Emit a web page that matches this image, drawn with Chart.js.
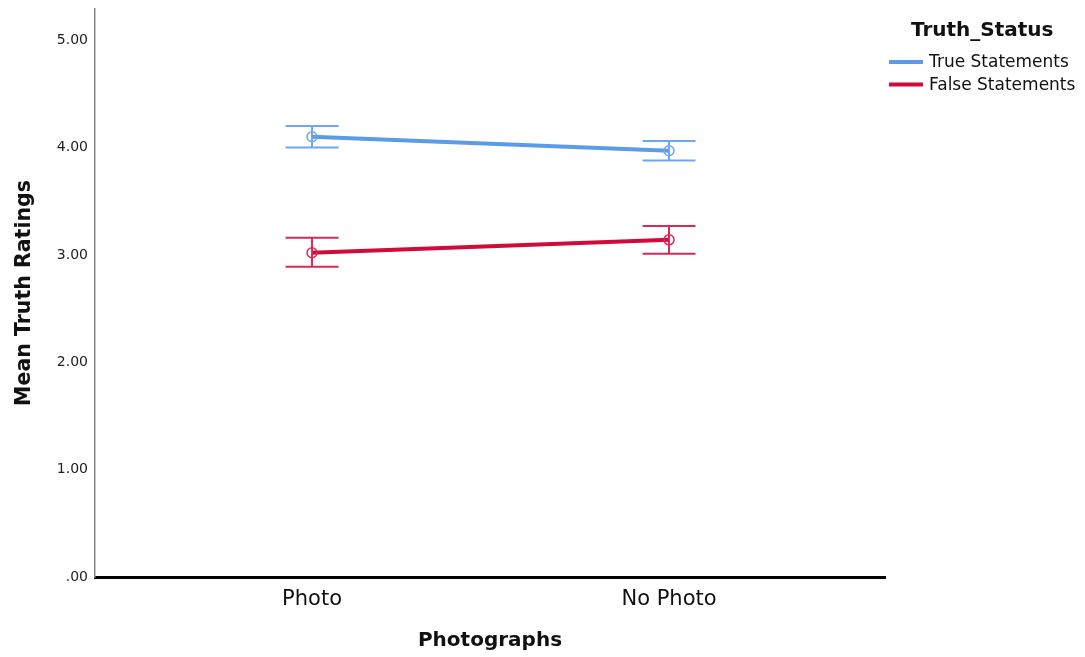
<!DOCTYPE html>
<html>
<head>
<meta charset="utf-8">
<script src="https://cdn.jsdelivr.net/npm/chart.js@4.4.1/dist/chart.umd.min.js"></script>
<style>
  html, body { margin: 0; padding: 0; background: #fff; }
  #wrap { width: 1085px; height: 657px; position: relative; }
</style>
</head>
<body>
<div id="wrap"><canvas id="chart" width="1085" height="657"></canvas></div>
<script>
// Categories on the x axis
const categories = ['Photo', 'No Photo'];
// Series names (legend)
const seriesNames = ['True Statements', 'False Statements'];
// Mean truth ratings
const trueMeans = [4.10, 3.97];
const falseMeans = [3.02, 3.14];
// Error bar limits
const trueUpper = [4.20, 4.06];
const trueLower = [4.00, 3.88];
const falseUpper = [3.16, 3.27];
const falseLower = [2.89, 3.01];
// Y tick values
const yTicks = [0, 1, 2, 3, 4, 5];

const legendTitle = 'Truth_Status';
const colors = ['#5b9be8', '#d20a3c'];
const barColors = ['#6ea7ea', '#d82a55'];

const toPoints = arr => arr.map((v, i) => ({ x: i, y: v }));

const errorBars = {
  id: 'errorBars',
  afterDatasetsDraw(chart) {
    const { ctx, scales: { x, y } } = chart;
    const limits = [[trueUpper, trueLower], [falseUpper, falseLower]];
    ctx.save();
    limits.forEach(([up, lo], d) => {
      ctx.strokeStyle = barColors[d];
      ctx.lineWidth = 2;
      up.forEach((u, i) => {
        const px = x.getPixelForValue(i);
        const pu = y.getPixelForValue(u);
        const pl = y.getPixelForValue(lo[i]);
        ctx.beginPath();
        ctx.moveTo(px, pu); ctx.lineTo(px, pl);
        ctx.moveTo(px - 26.5, pu); ctx.lineTo(px + 26.5, pu);
        ctx.moveTo(px - 26.5, pl); ctx.lineTo(px + 26.5, pl);
        ctx.stroke();
      });
    });
    ctx.restore();
  }
};

const sideLegend = {
  id: 'sideLegend',
  afterDraw(chart) {
    const ctx = chart.ctx;
    ctx.save();
    ctx.fillStyle = '#111';
    ctx.textBaseline = 'middle';
    ctx.textAlign = 'left';
    ctx.font = 'bold 20px "DejaVu Sans"';
    ctx.fillText(legendTitle, 911, 31);
    ctx.font = '17px "DejaVu Sans"';
    seriesNames.forEach((name, i) => {
      const yy = 62 + i * 22.5;
      ctx.strokeStyle = colors[i];
      ctx.lineWidth = 4;
      ctx.beginPath();
      ctx.moveTo(889, yy); ctx.lineTo(923, yy);
      ctx.stroke();
      ctx.fillStyle = '#111';
      ctx.fillText(name, 929, yy + 1);
    });
    ctx.restore();
  }
};

new Chart(document.getElementById('chart'), {
  type: 'line',
  data: {
    datasets: [
      {
        label: seriesNames[0],
        data: toPoints(trueMeans),
        borderColor: colors[0],
        borderWidth: 4,
        pointRadius: 5,
        pointBorderWidth: 1.5,
        pointBorderColor: barColors[0],
        pointBackgroundColor: 'rgba(255,255,255,0)'
      },
      {
        label: seriesNames[1],
        data: toPoints(falseMeans),
        borderColor: colors[1],
        borderWidth: 4,
        pointRadius: 5,
        pointBorderWidth: 1.5,
        pointBorderColor: barColors[1],
        pointBackgroundColor: 'rgba(255,255,255,0)'
      }
    ]
  },
  options: {
    responsive: false,
    animation: false,
    layout: { padding: { top: 9, right: 200, left: 0, bottom: 0 } },
    plugins: { legend: { display: false }, tooltip: { enabled: false } },
    scales: {
      x: {
        type: 'linear',
        min: -0.608,
        max: 1.605,
        afterBuildTicks(scale) { scale.ticks = categories.map((c, i) => ({ value: i })); },
        afterFit(scale) { scale.height = 80; },
        grid: { display: false, drawTicks: false },
        border: { display: true, color: '#000', width: 3 },
        ticks: {
          padding: 10,
          color: '#111',
          font: { family: '"DejaVu Sans"', size: 21 },
          callback: v => categories[v]
        },
        title: {
          display: true,
          text: 'Photographs',
          color: '#111',
          font: { family: '"DejaVu Sans"', size: 20, weight: 'bold' },
          padding: { top: 0, bottom: 4 }
        }
      },
      y: {
        min: 0,
        max: 5.29,
        afterBuildTicks(scale) { scale.ticks = yTicks.map(v => ({ value: v })); },
        afterFit(scale) {
          scale.width = 95;
          scale.paddingTop = 0;
          scale.paddingBottom = 0;
        },
        grid: { display: false, drawTicks: false },
        border: { display: true, color: '#888', width: 1.5 },
        ticks: {
          padding: 7,
          color: '#222',
          font: { family: '"DejaVu Sans"', size: 14 },
          callback: v => (v === 0 ? '.00' : v.toFixed(2))
        },
        title: {
          display: true,
          text: 'Mean Truth Ratings',
          color: '#111',
          font: { family: '"DejaVu Sans"', size: 20.5, weight: 'bold' },
          padding: { top: 12, bottom: 0 }
        }
      }
    }
  },
  plugins: [errorBars, sideLegend]
});
</script>
</body>
</html>
